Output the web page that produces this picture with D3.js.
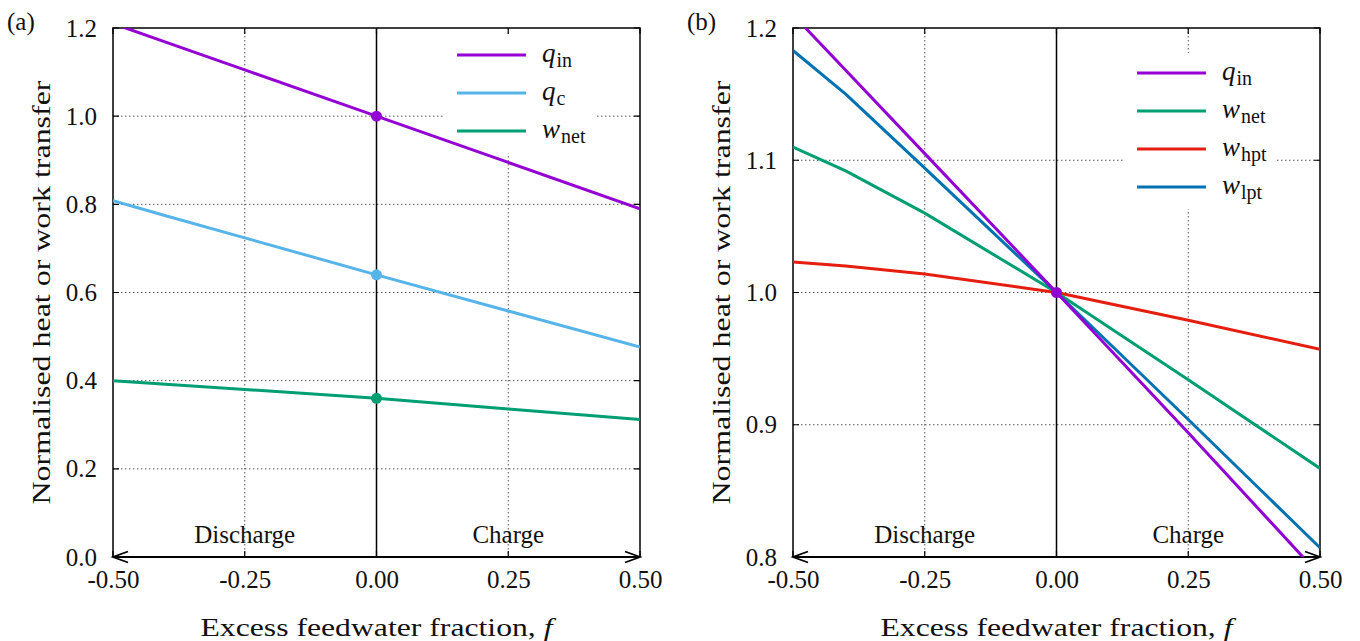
<!DOCTYPE html>
<html>
<head>
<meta charset="utf-8">
<script src="https://cdn.jsdelivr.net/npm/d3@7"></script>
<style>
  body { margin: 0; background: #fff; }
  svg text { font-family: "Liberation Serif", "Times New Roman", serif; fill: #111; }
</style>
</head>
<body>
<svg width="1360" height="641"></svg>
<script>
// values
var fVals = [-0.5, -0.4, -0.25, 0, 0.25, 0.5];
var xTicks = [-0.5, -0.25, 0, 0.25, 0.5];

// panel (a)
var aQin  = [1.21, 1.168, 1.105, 1.0, 0.895, 0.79];
var aQc   = [0.808, 0.774, 0.724, 0.64, 0.558, 0.476];
var aWnet = [0.40, 0.392, 0.380, 0.36, 0.336, 0.312];
var aYTicks = [0, 0.2, 0.4, 0.6, 0.8, 1.0, 1.2];

// panel (b)
var bQin  = [1.21, 1.168, 1.105, 1.0, 0.894, 0.786];
var bWnet = [1.11, 1.092, 1.060, 1.0, 0.934, 0.867];
var bWhpt = [1.023, 1.020, 1.014, 1.0, 0.979, 0.957];
var bWlpt = [1.183, 1.150, 1.094, 1.0, 0.904, 0.807];
var bYTicks = [0.8, 0.9, 1.0, 1.1, 1.2];

var colors = {qin: '#9400d3', qc: '#56b4e9', wnet: '#009e73', whpt: '#e51e10', wlpt: '#0072b2'};

var svg = d3.select('svg');

function drawPanel(opt) {
  var left = opt.left, top = 28, w = 527, h = 529;
  var x = d3.scaleLinear().domain([-0.5, 0.5]).range([left, left + w]);
  var y = d3.scaleLinear().domain(opt.yDomain).range([top + h, top]);
  var g = svg.append('g');
  var clipId = 'clip' + opt.label;

  g.append('clipPath').attr('id', clipId)
    .append('rect').attr('x', left).attr('y', top).attr('width', w).attr('height', h);

  // grid
  g.append('g').selectAll('line').data(opt.yTicks.slice(1, -1)).enter().append('line')
    .attr('x1', left).attr('x2', left + w)
    .attr('y1', function(d) { return y(d); }).attr('y2', function(d) { return y(d); })
    .attr('stroke', '#555').attr('stroke-width', 1).attr('stroke-dasharray', '1.5,2.5');
  g.append('g').selectAll('line').data([-0.25, 0.25]).enter().append('line')
    .attr('y1', top).attr('y2', top + h)
    .attr('x1', function(d) { return x(d); }).attr('x2', function(d) { return x(d); })
    .attr('stroke', '#555').attr('stroke-width', 1).attr('stroke-dasharray', '1.5,2.5');

  // zero line
  g.append('line').attr('x1', x(0)).attr('x2', x(0)).attr('y1', top).attr('y2', top + h)
    .attr('stroke', '#000').attr('stroke-width', 1.5);

  // legend background
  g.append('rect').attr('x', opt.legend.x - 14).attr('y', opt.legend.y - 20)
    .attr('width', 152).attr('height', opt.legend.items.length * 38 + 4)
    .attr('fill', '#fff');

  // border with ticks
  g.append('path')
    .attr('d', 'M' + left + ',' + (top + h) + 'V' + top + 'H' + (left + w) + 'V' + (top + h))
    .attr('fill', 'none').attr('stroke', '#000').attr('stroke-width', 1.5);

  var tl = 6;
  g.append('g').selectAll('path').data(opt.yTicks).enter().append('path')
    .attr('d', function(d) {
      return 'M' + left + ',' + y(d) + 'h' + tl + 'M' + (left + w) + ',' + y(d) + 'h' + (-tl);
    })
    .attr('stroke', '#000').attr('stroke-width', 1.2);
  g.append('g').selectAll('path').data(xTicks).enter().append('path')
    .attr('d', function(d) {
      return 'M' + x(d) + ',' + top + 'v' + tl + 'M' + x(d) + ',' + (top + h) + 'v' + (-tl);
    })
    .attr('stroke', '#000').attr('stroke-width', 1.2);

  // bottom double arrow
  var by = top + h;
  g.append('path')
    .attr('d', 'M' + left + ',' + by + 'H' + (left + w) +
      'M' + (left + 15) + ',' + (by - 5.5) + 'L' + left + ',' + by + 'L' + (left + 15) + ',' + (by + 5.5) +
      'M' + (left + w - 15) + ',' + (by - 5.5) + 'L' + (left + w) + ',' + by + 'L' + (left + w - 15) + ',' + (by + 5.5))
    .attr('fill', 'none').attr('stroke', '#000').attr('stroke-width', 1.8);

  // tick labels
  var yAxis = d3.axisLeft(y).tickValues(opt.yTicks).tickFormat(d3.format('.1f')).tickSize(0).tickPadding(16);
  var ya = g.append('g').attr('transform', 'translate(' + left + ',0)').call(yAxis);
  ya.attr('font-family', null);
  ya.select('.domain').remove();
  ya.selectAll('text').attr('font-size', 25).attr('fill', '#111');

  var xAxis = d3.axisBottom(x).tickValues(xTicks).tickFormat(d3.format('.2f')).tickSize(0).tickPadding(13);
  var xa = g.append('g').attr('transform', 'translate(0,' + (top + h) + ')').call(xAxis);
  xa.attr('font-family', null);
  xa.select('.domain').remove();
  xa.selectAll('text').attr('font-size', 25).attr('fill', '#111')
    .text(function(d) { return d3.format('.2f')(d).replace('−', '-'); });

  // axis titles
  var xt = g.append('text').attr('x', left + w / 2).attr('y', 636).attr('text-anchor', 'middle')
    .attr('font-size', 26).attr('fill', '#222')
    .attr('textLength', 352).attr('lengthAdjust', 'spacingAndGlyphs');
  xt.append('tspan').text('Excess feedwater fraction, ');
  xt.append('tspan').attr('font-style', 'italic').text('f');
  g.append('text').attr('transform', 'translate(' + (left - 63) + ',' + (top + h / 2) + ') rotate(-90)')
    .attr('text-anchor', 'middle').attr('font-size', 26).attr('fill', '#222')
    .attr('textLength', 424).attr('lengthAdjust', 'spacingAndGlyphs')
    .text('Normalised heat or work transfer');

  // panel label
  g.append('text').attr('x', left - 106).attr('y', 30).attr('font-size', 25).text('(' + opt.label + ')');

  // Discharge / Charge
  g.append('text').attr('x', x(-0.25)).attr('y', top + h - 14).attr('text-anchor', 'middle')
    .attr('font-size', 25).text('Discharge');
  g.append('text').attr('x', x(0.25)).attr('y', top + h - 14).attr('text-anchor', 'middle')
    .attr('font-size', 25).text('Charge');

  // series
  var line = d3.line()
    .x(function(d) { return x(d[0]); })
    .y(function(d) { return y(d[1]); });
  var lines = g.append('g').attr('clip-path', 'url(#' + clipId + ')');
  opt.series.forEach(function(s) {
    lines.append('path')
      .datum(fVals.map(function(f, i) { return [f, s.values[i]]; }))
      .attr('d', line)
      .attr('fill', 'none').attr('stroke', s.color).attr('stroke-width', 3);
  });
  opt.markers.forEach(function(s) {
    g.append('circle').attr('cx', x(0)).attr('cy', y(s.values[fVals.indexOf(0)]))
      .attr('r', 5.5).attr('fill', s.color);
  });

  // legend
  opt.legend.items.forEach(function(s, i) {
    var ly = opt.legend.y + i * 38;
    g.append('line').attr('x1', opt.legend.x).attr('x2', opt.legend.x + 69)
      .attr('y1', ly).attr('y2', ly).attr('stroke', s.color).attr('stroke-width', 3);
    var t = g.append('text').attr('x', opt.legend.x + 85).attr('y', ly + 7).attr('font-size', 27);
    t.append('tspan').attr('font-style', 'italic').text(s.sym);
    t.append('tspan').attr('font-size', 20).attr('dy', 5).attr('dx', 1).text(s.sub);
  });
}

var sQin = {values: aQin, color: colors.qin, sym: 'q', sub: 'in'};
var sQc = {values: aQc, color: colors.qc, sym: 'q', sub: 'c'};
var sWnet = {values: aWnet, color: colors.wnet, sym: 'w', sub: 'net'};

drawPanel({
  label: 'a', left: 113, yDomain: [0, 1.2], yTicks: aYTicks,
  series: [sQin, sQc, sWnet],
  markers: [sQin, sQc, sWnet],
  legend: {x: 457, y: 55, items: [sQin, sQc, sWnet]}
});

var tQin = {values: bQin, color: colors.qin, sym: 'q', sub: 'in'};
var tWnet = {values: bWnet, color: colors.wnet, sym: 'w', sub: 'net'};
var tWhpt = {values: bWhpt, color: colors.whpt, sym: 'w', sub: 'hpt'};
var tWlpt = {values: bWlpt, color: colors.wlpt, sym: 'w', sub: 'lpt'};

drawPanel({
  label: 'b', left: 793, yDomain: [0.8, 1.2], yTicks: bYTicks,
  series: [tWhpt, tWnet, tWlpt, tQin],
  markers: [tQin],
  legend: {x: 1137, y: 73, items: [tQin, tWnet, tWhpt, tWlpt]}
});
</script>
</body>
</html>
